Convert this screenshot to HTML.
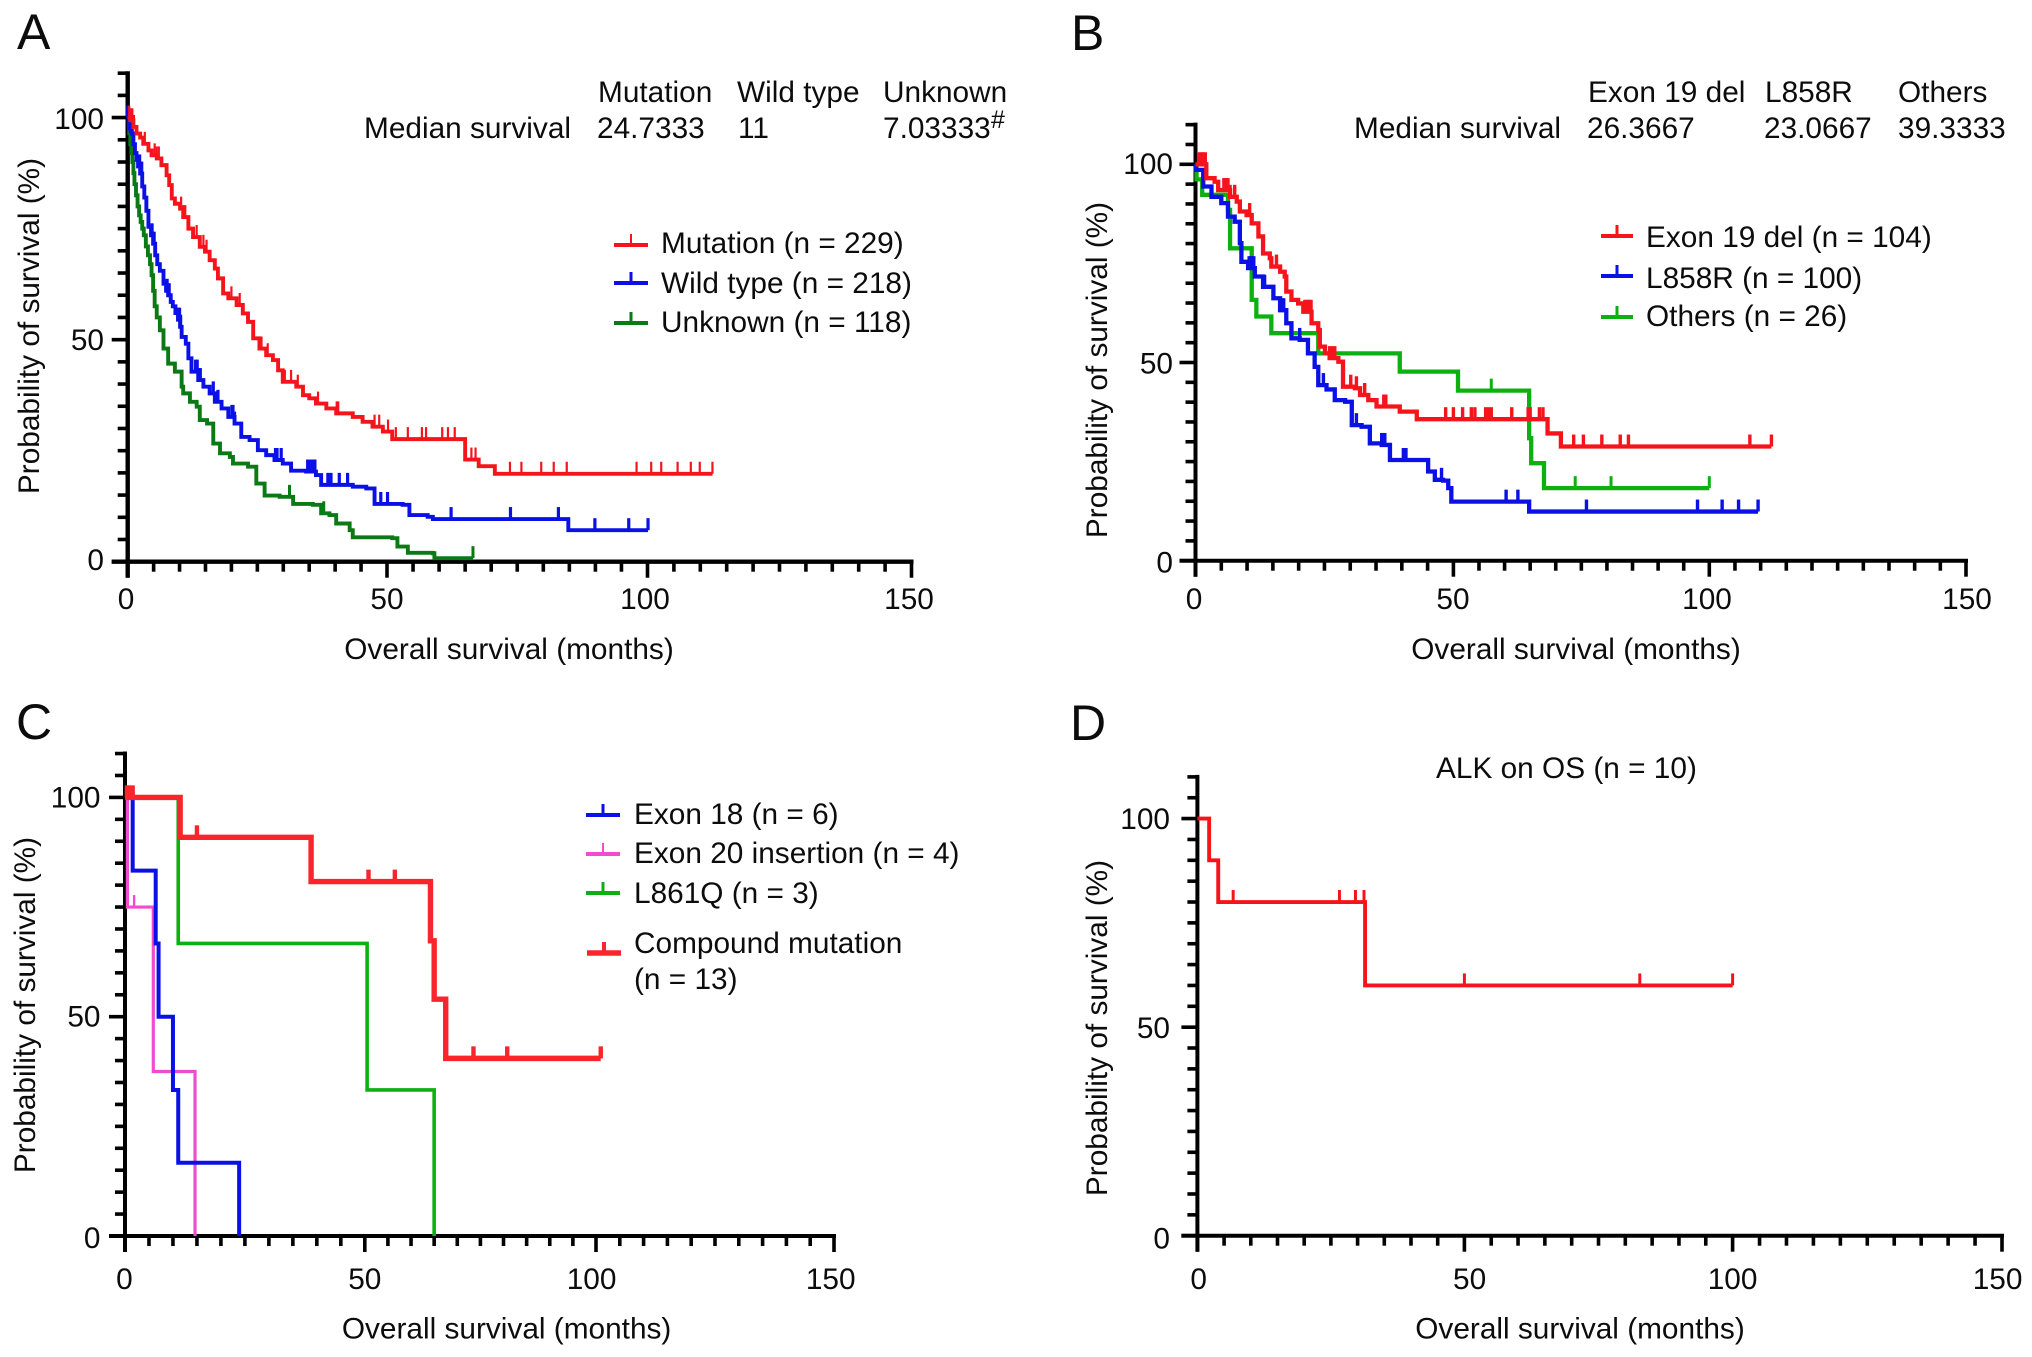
<!DOCTYPE html>
<html lang="en">
<head>
<meta charset="utf-8">
<title>Kaplan-Meier overall survival curves</title>
<style>
html,body{margin:0;padding:0;background:#fff;}
svg{display:block;}
text{font-family:"Liberation Sans",Arial,sans-serif;font-size:29.8px;fill:#0c0c0c;}
.letter{font-size:50px;}
.sup{font-size:25px;}
</style>
</head>
<body>
<svg id="figure" xmlns="http://www.w3.org/2000/svg" width="2032" height="1357" viewBox="0 0 2032 1357">
<rect x="0" y="0" width="2032" height="1357" fill="#fff"/>
<g id="plots"></g>

<text class="letter" x="17" y="49">A</text>
<text class="letter" x="1071" y="50">B</text>
<text class="letter" x="16" y="739">C</text>
<text class="letter" x="1070" y="740">D</text>

<g>
<text x="598" y="102">Mutation</text>
<text x="737" y="102">Wild type</text>
<text x="883" y="102">Unknown</text>
<text x="364" y="138">Median survival</text>
<text x="597" y="138">24.7333</text>
<text x="738" y="138">11</text>
<text x="883" y="138">7.03333</text>
<text class="sup" x="991" y="128">#</text>
</g>
<g>
<text x="661" y="253">Mutation (n = 229)</text>
<text x="661" y="293">Wild type (n = 218)</text>
<text x="661" y="332">Unknown (n = 118)</text>
</g>

<g>
<text x="1588" y="102">Exon 19 del</text>
<text x="1765" y="102">L858R</text>
<text x="1898" y="102">Others</text>
<text x="1354" y="138">Median survival</text>
<text x="1587" y="138">26.3667</text>
<text x="1764" y="138">23.0667</text>
<text x="1898" y="138">39.3333</text>
</g>
<g>
<text x="1646" y="247">Exon 19 del (n = 104)</text>
<text x="1646" y="288">L858R (n = 100)</text>
<text x="1646" y="326">Others (n = 26)</text>
</g>

<g>
<text x="634" y="824">Exon 18 (n = 6)</text>
<text x="634" y="863">Exon 20 insertion (n = 4)</text>
<text x="634" y="903">L861Q (n = 3)</text>
<text x="634" y="953">Compound mutation</text>
<text x="634" y="989">(n = 13)</text>
</g>

<text x="1436" y="778">ALK on OS (n = 10)</text>
</svg>

<script>
// Tick labels shared by every panel
const xTickLabels = [0, 50, 100, 150];
const yTickLabels = [0, 50, 100];
const xTitle = 'Overall survival (months)';
const yTitle = 'Probability of survival (%)';

// Panel A: event times (months), survival after event (%), censor times (months)
const aMutationTimes = [0,0.5,1.1,1.7,2.4,3,4,4.6,5.6,6.5,7.5,8,8.5,9.1,10.1,10.7,11.7,12.6,13.9,14.9,15.8,16.8,17.4,18.4,19.4,21,22.2,23.2,24.2,25.4,26.7,28,29,29.9,32.5,33.8,35,36.3,38.3,40.2,43.4,45.3,47.2,49.2,51,65,67.6,70.7,112.3];
const aMutationSurv = [100,99.4,97.9,96.4,95.5,94.1,92.6,91.5,90.8,89.3,87,84.8,81.8,80.6,79.5,77.6,75,73.1,70.9,69.8,67.9,66,63.8,60.4,59.3,57.8,55.9,54,50.3,48,46.5,45.4,43.1,40.5,39.4,37.5,36.8,35.6,34.5,33.4,32.6,31.5,30.4,29.3,27.6,23,21.5,19.8,19.8];
const aMutationCensors = [0.3,0.6,0.9,1.2,3.3,5.2,5.6,6,10.3,10.7,11.1,13.3,14.6,15.2,20,21.6,25.8,27,30.3,31.5,32.8,36.7,40.3,40.6,47.6,48.5,50.2,51.7,54,56.7,57.5,60.6,61.7,63,66.2,67,73.6,75.8,79.6,82,84.5,97.9,100.7,102.6,105.7,108.2,109.9,112.3];

const aWildTimes = [0,0.2,0.4,0.6,0.8,1.1,1.4,1.7,2,2.4,2.8,3.2,3.6,4,4.5,4.9,5.3,5.7,6.2,6.9,7.4,7.8,8.3,8.7,9.2,9.7,10.1,10.4,11.2,11.7,12.3,13.6,14.6,15.8,16.8,18.1,19.4,20.6,21.9,23.5,25.1,26.7,28.3,29.9,31.5,34.4,36.3,37.3,43.4,46,47.6,53,54.3,57.8,58.8,84.8,100.1];
const aWildSurv = [100,98.5,97.5,97,96.4,94,92,90.5,89,87.4,84.5,82,79,75.4,73.5,71.6,69,67,65.5,62.6,61,60,58.5,57.5,56,54.5,52.9,50.6,49.1,45.8,42.8,40.9,39.4,37.9,36,34.5,32.6,31.1,28.1,27.4,25.1,24,22.9,22.1,20.5,20.3,19.5,17.3,16.9,16.5,13,12.8,10.5,10.1,9.6,7.1,7.1];
const aWildCensors = [0,2.3,2.5,2.7,4.7,4.9,5.1,7.6,7.8,8,9.8,10,10.2,13.1,13.4,13.7,14,16.5,17.4,20.1,20.3,20.6,28.5,28.8,29.6,34.7,35,35.4,35.8,36.1,38.6,39.2,40.8,42.4,48.8,50.1,54.3,62.3,73.7,82.9,89.9,96.4,100.1];

const aUnknownTimes = [0,0.3,0.5,0.7,0.9,1.1,1.3,1.6,1.9,2.2,2.5,2.8,3.1,3.5,3.9,4.3,4.6,4.9,5.2,5.6,6.2,6.9,7.8,9.1,10.4,10.7,12,13.3,13.9,15.3,16.5,17.8,19.7,20.3,23.2,24.8,26.4,29.3,31.9,35.7,37.3,38.9,40.2,42.8,43.4,51,52,54,58.8,59.1,66.5];
const aUnknownSurv = [100,96.5,94,92,90,87.5,85,82.5,80,78,76.5,75,73.5,71,69,67,64.5,61,57.5,55,52.1,48,44.6,42.8,39.4,37.9,36,34.9,31.9,31.1,26.6,24.4,23.6,22.1,21.4,17.6,14.9,14.6,13,12.8,10.9,10.5,8.6,7.1,5.5,5.3,3.4,2,1.9,0.8,0.8];
const aUnknownCensors = [5.6,31.2,37.8,66.5];

// Panel B
const bExonTimes = [0,2.1,3.7,4.4,6.7,8,8.6,9.9,10.9,12.2,13.1,14.4,14.7,16.4,17.3,17.6,18.6,19.9,20.9,22.5,23.8,24.1,25.1,26,27.7,28.6,30.9,31.9,33.5,35.1,39.6,42.9,68.4,71,112.1];
const bExonSurv = [100,96.5,95.6,93.5,91.8,90.6,88.1,87.2,85.1,81.8,77.5,76.3,74.2,72.9,71.7,67.9,65.8,64.9,62.8,59.9,58.2,54,52.3,51.1,50.2,43.9,43.5,41.8,40.5,38.9,37.6,35.7,32.1,28.8,28.8];
const bExonCensors = [0.6,1,1.3,1.6,1.9,5.5,5.9,6.3,6.7,7.6,10.5,15.7,21.2,21.6,22,22.4,26,26.5,27,30.1,31.2,32.8,36.5,36.9,48.5,50,51.8,53.5,54.2,56.3,56.9,57.4,61.4,64.6,65,66.8,67.5,73.5,75.4,79,82.6,84.2,107.9,112.1];

const bL858Times = [0,0.1,1.5,3.1,5,6.3,7.6,8.6,8.9,10.2,11.5,13.1,15.1,16.4,17.6,18.6,20.2,21.8,23.1,23.8,25.4,27,29,30.3,32.2,33.8,36.1,37.7,45.1,46.4,48,49,49.6,64.8,109.5];
const bL858Surv = [100,98.6,94.4,91.8,90.2,86.8,85.5,80.1,75.4,73.8,71.7,69.1,66.2,63.2,59.9,56.1,55.7,52.3,48.9,44.3,43.2,40.5,40.1,34.2,33.8,29.6,29.2,25.4,22.5,20.4,20.2,18.3,14.9,12.4,12.4];
const bL858Censors = [10.4,10.7,11,11.3,13.4,15.1,16.7,17.1,18.6,20.2,24.8,31.2,36.1,36.7,40.3,40.8,47.7,60.3,62.6,76,97.7,102.5,105.7,109.5];

const bOthersTimes = [0,0.2,1.3,6.3,6.7,10.9,11.8,14.7,23.8,39.6,50.9,64.8,65.2,67.7,100];
const bOthersSurv = [100,96.2,92.3,88.5,78.8,65.8,61.6,57.4,52.3,47.7,42.9,30.9,24.6,18.3,18.3];
const bOthersCensors = [57.4,73.8,80.8,100];

// Panel C
const cExon18Times = [0,1.6,6.4,7,10,11.1,23.8];
const cExon18Surv = [100,83.3,66.7,50,33.3,16.7,0];
const cExon18Censors = [];

const cExon20Times = [0,0.5,5.9,14.6];
const cExon20Surv = [100,75,37.5,0];
const cExon20Censors = [1.9];

const cL861Times = [0,11.1,50.5,65];
const cL861Surv = [100,66.7,33.3,0];
const cL861Censors = [];

const cCompoundTimes = [0,11.5,38.8,64.2,65,67.5,101];
const cCompoundSurv = [100,90.9,80.8,67.3,54,40.5,40.5];
const cCompoundCensors = [0.4,0.8,1.2,1.6,15,50.8,56.5,73.5,80.8,101];

// Panel D
const dAlkTimes = [0,2.2,3.9,31.4,100];
const dAlkSurv = [100,90,80,60,60];
const dAlkCensors = [6.7,26.6,29.6,31.2,50,82.7,100];

// Layout of each panel
const panels = [
  {id:'a', xStops:[127.7,387,647.5,911.5], y0:561.7, y100:117.6,
   xLabelAt:[126,387,645,909], xLabelY:609, yLabelRight:104, yLabelDy:[8.5,10.5,11.5],
   xTitleX:509, xTitleY:659, yTitleX:39, yTitleY:326, lw:3.9, axisW:4.4,
   series:[
    {name:'unknown', color:'#0b7a14', t:aUnknownTimes, s:aUnknownSurv, c:aUnknownCensors, tickW:3},
    {name:'wild-type', color:'#0a10e6', t:aWildTimes, s:aWildSurv, c:aWildCensors, tickW:3.2},
    {name:'mutation', color:'#f5141c', t:aMutationTimes, s:aMutationSurv, c:aMutationCensors, tickW:2.2}]},
  {id:'b', xStops:[1195.5,1453.4,1709.3,1966], y0:560.7, y100:164.3,
   xLabelAt:[1194,1453,1707,1967], xLabelY:609, yLabelRight:1173, yLabelDy:[12,11,9.5],
   xTitleX:1576, xTitleY:659, yTitleX:1107, yTitleY:370, lw:4.3, axisW:4,
   series:[
    {name:'others', color:'#0cb010', t:bOthersTimes, s:bOthersSurv, c:bOthersCensors, tickW:3},
    {name:'l858r', color:'#0a10e6', t:bL858Times, s:bL858Surv, c:bL858Censors, tickW:3.4},
    {name:'exon-19', color:'#f5141c', t:bExonTimes, s:bExonSurv, c:bExonCensors, tickW:3.4}]},
  {id:'c', xStops:[125,364.8,596,834], y0:1236, y100:797.4,
   xLabelAt:[124.4,364.8,591.6,830.7], xLabelY:1289, yLabelRight:100.5, yLabelDy:[12,10,10],
   xTitleX:506.6, xTitleY:1338.5, yTitleX:35, yTitleY:1005, lw:3.4, axisW:4,
   series:[
    {name:'exon-20', color:'#f04cd0', t:cExon20Times, s:cExon20Surv, c:cExon20Censors, tickW:2.4, lw:3.2},
    {name:'l861q', color:'#0cb010', t:cL861Times, s:cL861Surv, c:cL861Censors, tickW:2.4, lw:3.6},
    {name:'exon-18', color:'#0a10e6', t:cExon18Times, s:cExon18Surv, c:cExon18Censors, tickW:2.6, lw:4},
    {name:'compound', color:'#f8262c', t:cCompoundTimes, s:cCompoundSurv, c:cCompoundCensors, tickW:4.4, lw:5.4}]},
  {id:'d', xStops:[1197.4,1464.4,1732.6,2002], y0:1235.7, y100:818.6,
   xLabelAt:[1198.7,1469.6,1732.6,1997.6], xLabelY:1289, yLabelRight:1170, yLabelDy:[13,11,10.5],
   xTitleX:1580, xTitleY:1338.5, yTitleX:1107, yTitleY:1028, lw:3.9, axisW:4,
   series:[
    {name:'alk', color:'#f5141c', t:dAlkTimes, s:dAlkSurv, c:dAlkCensors, tickW:3}]}
];

// Legend swatches: series, colour, left, right, y, tick width
const legendSwatches = [
  ['mutation','#f5141c',614,648,245,2],
  ['wild-type','#0a10e6',614,648,283,3],
  ['unknown','#0b7a14',614,648,323,3],
  ['exon-19','#f5141c',1601,1633,236,3],
  ['l858r','#0a10e6',1601,1633,276,3],
  ['others','#0cb010',1601,1633,317,3],
  ['exon-18','#0a10e6',586,620,815,3],
  ['exon-20','#f04cd0',586,620,854,2],
  ['l861q','#0cb010',586,620,893,3],
  ['compound','#f8262c',587,621,953,4]
];

const NS = 'http://www.w3.org/2000/svg';
const root = document.getElementById('plots');

function makeLine(parent, x1, y1, x2, y2, color, width, name) {
  const el = document.createElementNS(NS, 'line');
  
  
  el.setAttribute('x1', x1);
  el.setAttribute('y1', y1);
  el.setAttribute('x2', x2);
  el.setAttribute('y2', y2);
  el.setAttribute('stroke', color);
  el.setAttribute('stroke-width', width);
  parent.appendChild(el);
  return el;
}

function makeText(parent, x, y, str, anchor, name) {
  const el = document.createElementNS(NS, 'text');
  
  
  el.setAttribute('x', x);
  el.setAttribute('y', y);
  el.setAttribute('text-anchor', anchor);
  el.textContent = str;
  parent.appendChild(el);
  return el;
}

function makeGroup(parent, name) {
  const el = document.createElementNS(NS, 'g');
  
  
  parent.appendChild(el);
  return el;
}

function xAxisScale(p) {
  return function (v) {
    const seg = Math.min(Math.floor(v / 50), 2);
    const a = p.xStops[seg], b = p.xStops[seg + 1];
    return a + (v - seg * 50) / 50 * (b - a);
  };
}

function yAxisScale(p) {
  return function (v) {
    return p.y0 + (p.y100 - p.y0) * v / 100;
  };
}

function survivalAt(times, surv, t) {
  let cur = surv[0];
  for (let i = 0; i < times.length; i++) {
    if (times[i] <= t) cur = surv[i];
  }
  return cur;
}

function drawPanel(p) {
  const g = makeGroup(root, 'panel-' + p.id);
  const X = xAxisScale(p);
  const Y = yAxisScale(p);

  // axes
  const axes = makeGroup(g, 'panel-' + p.id + '-axes');
  makeLine(axes, X(0), Y(110) - 2, X(0), p.y0 + 16, '#000', p.axisW, 'y-axis-line');
  makeLine(axes, X(0) - 16, p.y0, X(150) + 2, p.y0, '#000', p.axisW, 'x-axis-line');
  for (let v = 0; v <= 150; v += 5) {
    const major = v % 50 === 0;
    makeLine(axes, X(v), p.y0, X(v), p.y0 + (major ? 16 : 10), '#000', 3.6, 'x-tick');
  }
  for (let v = 0; v <= 110; v += 5) {
    const major = v % 50 === 0;
    makeLine(axes, X(0), Y(v), X(0) - (major ? 16 : 10), Y(v), '#000', 3.6, 'y-tick');
  }
  xTickLabels.forEach(function (lab, i) {
    makeText(axes, p.xLabelAt[i], p.xLabelY, String(lab), 'middle', 'x-tick-label');
  });
  yTickLabels.forEach(function (lab, i) {
    makeText(axes, p.yLabelRight, Y(lab) + p.yLabelDy[i], String(lab), 'end', 'y-tick-label');
  });
  makeText(axes, p.xTitleX, p.xTitleY, xTitle, 'middle', 'x-axis-title');
  const yt = makeText(axes, p.yTitleX, p.yTitleY, yTitle, 'middle', 'y-axis-title');
  yt.setAttribute('transform', 'rotate(-90 ' + p.yTitleX + ' ' + p.yTitleY + ')');

  // series
  p.series.forEach(function (s) {
    const sg = makeGroup(g, 'series-' + s.name);
    let d = 'M' + X(s.t[0]) + ' ' + Y(s.s[0]);
    for (let i = 1; i < s.t.length; i++) {
      d += 'H' + X(s.t[i]) + 'V' + Y(s.s[i]);
    }
    const path = document.createElementNS(NS, 'path');
    
    
    path.setAttribute('d', d);
    path.setAttribute('fill', 'none');
    path.setAttribute('stroke', s.color);
    path.setAttribute('stroke-width', s.lw || p.lw);
    sg.appendChild(path);
    s.c.forEach(function (t) {
      const yy = Y(survivalAt(s.t, s.s, t));
      makeLine(sg, X(t), yy, X(t), yy - 12, s.color, s.tickW, 'censor-tick-' + s.name);
    });
  });
}

panels.forEach(drawPanel);

legendSwatches.forEach(function (l) {
  const g = makeGroup(root, 'legend-swatch-' + l[0]);
  const thick = l[0] === 'compound' ? 5.4 : 4;
  makeLine(g, l[2], l[4], l[3], l[4], l[1], thick, 'legend-line-' + l[0]);
  makeLine(g, (l[2] + l[3]) / 2, l[4], (l[2] + l[3]) / 2, l[4] - 11, l[1], l[5], 'legend-tick-' + l[0]);
});
</script>
</body>
</html>
